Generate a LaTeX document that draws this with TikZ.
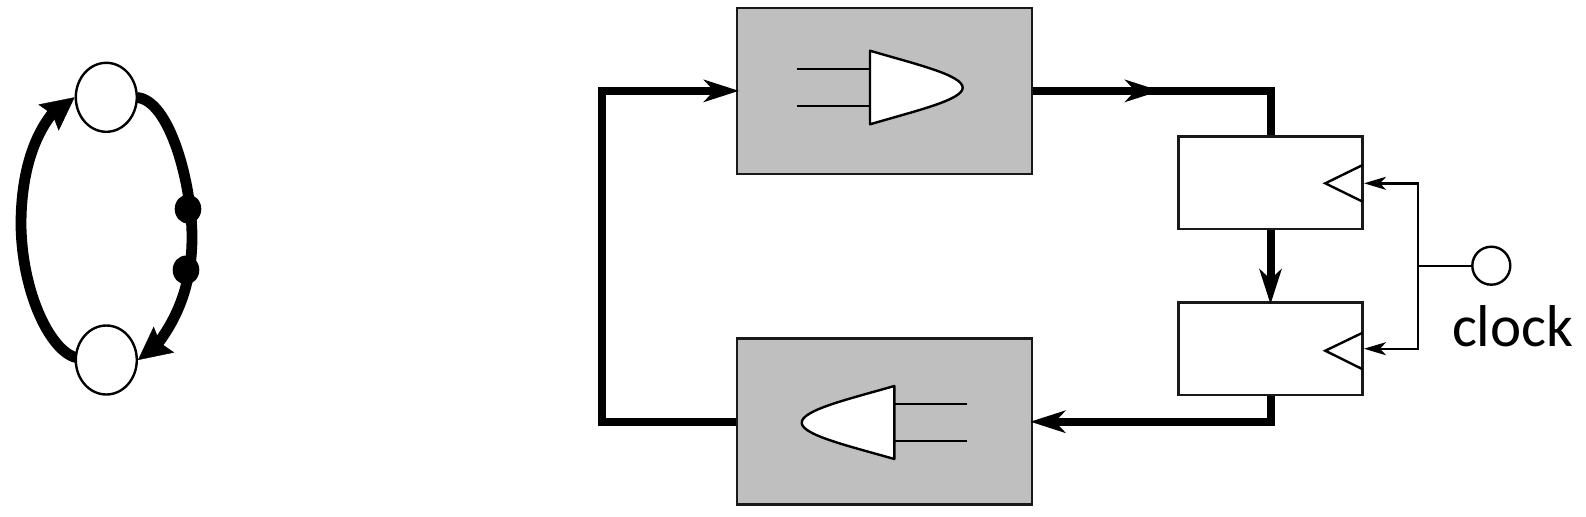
\documentclass[tikz,border=0pt]{standalone}
\usepackage{fontspec}
\setmainfont{Carlito}
\usetikzlibrary{arrows.meta,shapes.geometric}
\definecolor{boxgray}{RGB}{191,191,191}
\tikzset{
  x=0.5pt,y=-0.5pt,
  block/.style={draw=black!90,line width=1.3pt,rectangle,inner sep=0pt},
  logicbox/.style={block,fill=boxgray,minimum width=147.5pt,minimum height=83pt},
  regbox/.style={block,fill=white,minimum width=92pt,minimum height=46.3pt},
  bus/.style={line width=4pt,line join=miter,line cap=butt},
  wire/.style={line width=1.2pt},
  bigtip/.style={-{Stealth[length=17.5pt,width=11pt,inset=5pt,sep=0pt]},shorten >=-1.6pt},
  smalltip/.style={-{Stealth[length=11pt,width=6.5pt,inset=3pt]}},
  state/.style={circle,draw=black,line width=1.2pt,fill=white,inner sep=0pt},
  loopstate/.style={ellipse,draw=black,line width=1.2pt,fill=white,minimum width=30.5pt,minimum height=34.5pt,inner sep=0pt},
  loopline/.style={line width=5.4pt},
  looptip/.style={-{Stealth[length=16.5pt,width=16.5pt,inset=2.5pt]}},
  token/.style={ellipse,fill=black,minimum width=13.3pt,minimum height=14.5pt,inner sep=0pt},
  gatewire/.style={line width=1.2pt},
  gatebody/.style={draw=black,fill=white,line width=1.2pt,line join=round},
}
\begin{document}
\begin{tikzpicture}
\useasboundingbox (0,0) rectangle (1586,516);
% left loop
\coordinate (ta) at (48,118);
\coordinate (tb) at (164,339.5);
\draw[loopline] (78,358) .. controls (52,354) and (22,295) .. (21,225) .. controls (21,175) and (33,135) .. (56,109);
\draw[loopline] (137,97.5) .. controls (170,100) and (192,185) .. (192,237) .. controls (192,280) and (180,315) .. (156,346);
\node[loopstate] (top) at (106.3,97.3) {};
\node[loopstate] (bot) at (106.3,360) {};
\node[token] (d1) at (188,209) {};
\node[token] (d2) at (186,270) {};
\draw[looptip,line width=0.2pt] (ta) -- (top.west);
\draw[looptip,line width=0.2pt] (tb) -- (bot.east);
% right
\node[logicbox] (g1) at (884.6,90.85) {};
\node[logicbox] (g2) at (884.6,421.7) {};
\node[regbox] (r1) at (1270.5,182.85) {};
\node[regbox] (r2) at (1270.5,348.65) {};
\node[state,minimum size=19pt] (clk) at (1491.3,265.7) {};
\node[anchor=base,font=\fontsize{29.5pt}{31pt}\selectfont] (clktext) at (1512.7,346.7) {clock};
% gates
\draw[gatewire] (797,69) -- (870,69) (797,106) -- (870,106);
\draw[gatebody] (870,50.7) .. controls (915,64) and (962.7,75) .. (962.7,87.7) .. controls (962.7,100) and (915,111) .. (870,124.3) -- cycle;
\draw[gatewire] (967.3,404) -- (894.3,404) (967.3,441) -- (894.3,441);
\draw[gatebody] (894.3,386) .. controls (849,399) and (801.7,410) .. (801.7,422.7) .. controls (801.7,435) and (849,446) .. (894.3,459) -- cycle;
% triangles
\draw[wire,line join=miter] (1362.7,165) -- (1325.3,183.3) -- (1362.7,201.7);
\draw[wire,line join=miter] (1362.7,332.7) -- (1325.3,350.7) -- (1362.7,369.3);
% buses
\coordinate (leftx) at (602,256);
\coordinate (mark) at (1157,90.85);
\coordinate (rbus) at (1270.5,90.85);
\coordinate (brbus) at (1270.5,421.7);
\draw[bus,bigtip] (g2.west) -| (leftx) |- (g1.west);
\draw[bus] (g1.east) -- (rbus) -- (r1.north);
\draw[bus,bigtip] (g1.east) -- (mark);
\draw[bus,bigtip] (r1.south) -- (r2.north);
\draw[bus,bigtip] (r2.south) |- (g2.east);
% clock
\coordinate (cx) at (1417.7,265.7);
\coordinate (t1) at (1364,183.3);
\coordinate (t2) at (1364,348.7);
\draw[wire] (clk.west) -- (cx);
\draw[wire,smalltip] (cx) |- (t1);
\draw[wire,smalltip] (cx) |- (t2);
\end{tikzpicture}
\end{document}
